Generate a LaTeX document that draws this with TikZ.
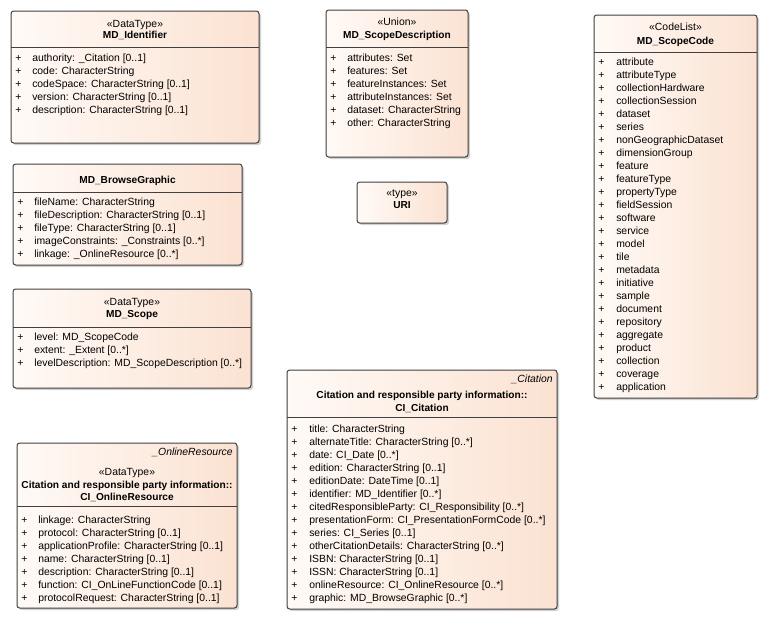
\documentclass[tikz,border=0pt]{standalone}
\usepackage{fontspec}
\setmainfont{Liberation Sans}
\usetikzlibrary{shadows}
\definecolor{boxleft}{HTML}{FFFAF6}
\definecolor{boxright}{HTML}{FBE2D2}
\tikzset{
  classbox/.style={draw=black!75, line width=0.75pt, rounded corners=2pt,
    left color=boxleft, right color=boxright,
    drop shadow={shadow xshift=1.5pt, shadow yshift=-1.5pt, fill=black!35, opacity=0.5}},
  sepline/.style={draw=black!75, line width=0.6pt},
  stereo/.style={font=\fontsize{7.8}{10}\selectfont, inner sep=0pt, text height=6pt, text depth=1.5pt},
  title/.style={stereo, font=\fontsize{7.6}{10}\selectfont\bfseries},
  attr/.style={stereo, anchor=west},
  tag/.style={stereo, anchor=east, font=\fontsize{7.8}{10}\selectfont\itshape},
}
\begin{document}
\begin{tikzpicture}[x=0.75pt, y=-0.75pt]
            \useasboundingbox (0,0) rectangle (767,639);
            % MD_Identifier
            \path[classbox] (11,11) rectangle (259,143);
            \draw[sepline] (11,47) -- (259,47);
            \node[stereo] (idstereo) at (135,24) {«DataType»};
            \node[title] (idname) at (135,35) {MD\_Identifier};
            \foreach \t [count=\i] in {authority: \_Citation [0..1], code: CharacterString,
                codeSpace: CharacterString [0..1], version: CharacterString [0..1],
                description: CharacterString [0..1]} {
              \node[attr] (idplus\i) at (15,45+13*\i) {+};
              \node[attr] (idattr\i) at (32,45+13*\i) {\t};
            }
            % MD_BrowseGraphic
            \path[classbox] (13,164) rectangle (242,265);
            \draw[sepline] (13,192) -- (242,192);
            \node[title] (bgname) at (127.5,180) {MD\_BrowseGraphic};
            \foreach \t [count=\i] in {fileName: CharacterString, fileDescription: CharacterString [0..1],
                fileType: CharacterString [0..1], imageConstraints: \_Constraints [0..*],
                linkage: \_OnlineResource [0..*]} {
              \node[attr] (bgplus\i) at (17,189+13*\i) {+};
              \node[attr] (bgattr\i) at (34,189+13*\i) {\t};
            }
            % MD_Scope
            \path[classbox] (13,289) rectangle (251,388);
            \draw[sepline] (13,327) -- (251,327);
            \node[stereo] (scstereo) at (132,302) {«DataType»};
            \node[title] (scname) at (132,314) {MD\_Scope};
            \foreach \t [count=\i] in {level: MD\_ScopeCode, extent: \_Extent [0..*],
                levelDescription: MD\_ScopeDescription [0..*]} {
              \node[attr] (scplus\i) at (17,324+13*\i) {+};
              \node[attr] (scattr\i) at (34,324+13*\i) {\t};
            }
            % CI_OnlineResource
            \path[classbox] (17,443) rectangle (237,608);
            \draw[sepline] (17,506) -- (237,506);
            \node[tag] (ortag) at (233,452) {\_OnlineResource};
            \node[stereo] (orstereo) at (127,472) {«DataType»};
            \node[title] (orpkg) at (127,485) {Citation and responsible party information::};
            \node[title] (orname) at (127,497) {CI\_OnlineResource};
            \foreach \t [count=\i] in {linkage: CharacterString, protocol: CharacterString [0..1],
                applicationProfile: CharacterString [0..1], name: CharacterString [0..1],
                description: CharacterString [0..1], function: CI\_OnLineFunctionCode [0..1],
                protocolRequest: CharacterString [0..1]} {
              \node[attr] (orplus\i) at (21,507+13*\i) {+};
              \node[attr] (orattr\i) at (38,507+13*\i) {\t};
            }
            % CI_Citation
            \path[classbox] (287,370) rectangle (557,609);
            \draw[sepline] (287,417) -- (557,417);
            \node[tag] (cttag) at (553,379) {\_Citation};
            \node[title] (ctpkg) at (422,395) {Citation and responsible party information::};
            \node[title] (ctname) at (422,408) {CI\_Citation};
            \foreach \t [count=\i] in {title: CharacterString, alternateTitle: CharacterString [0..*],
                date: CI\_Date [0..*], edition: CharacterString [0..1], editionDate: DateTime [0..1],
                identifier: MD\_Identifier [0..*], citedResponsibleParty: CI\_Responsibility [0..*],
                presentationForm: CI\_PresentationFormCode [0..*], series: CI\_Series [0..1],
                otherCitationDetails: CharacterString [0..*], ISBN: CharacterString [0..1],
                ISSN: CharacterString [0..1], onlineResource: CI\_OnlineResource [0..*],
                graphic: MD\_BrowseGraphic [0..*]} {
              \node[attr] (ctplus\i) at (291,417+12.93*\i) {+};
              \node[attr] (ctattr\i) at (309,417+12.93*\i) {\t};
            }
            % MD_ScopeDescription
            \path[classbox] (326,10) rectangle (468,157);
            \draw[sepline] (326,47) -- (468,47);
            \node[stereo] (sdstereo) at (397,22) {«Union»};
            \node[title] (sdname) at (397,35) {MD\_ScopeDescription};
            \foreach \t [count=\i] in {attributes: Set, features: Set, featureInstances: Set,
                attributeInstances: Set, dataset: CharacterString, other: CharacterString} {
              \node[attr] (sdplus\i) at (330,45+13*\i) {+};
              \node[attr] (sdattr\i) at (347,45+13*\i) {\t};
            }
            % URI
            \path[classbox] (357,182) rectangle (447,223);
            \node[stereo] (uristereo) at (402,193) {«type»};
            \node[title] (uriname) at (402,205) {URI};
            % MD_ScopeCode
            \path[classbox] (594,15) rectangle (757,398);
            \draw[sepline] (594,52) -- (757,52);
            \node[stereo] (cdstereo) at (675.5,28) {«CodeList»};
            \node[title] (cdname) at (675.5,41) {MD\_ScopeCode};
            \foreach \t [count=\i] in {attribute, attributeType, collectionHardware, collectionSession,
                dataset, series, nonGeographicDataset, dimensionGroup, feature, featureType,
                propertyType, fieldSession, software, service, model, tile, metadata, initiative,
                sample, document, repository, aggregate, product, collection, coverage, application} {
              \node[attr] (cdplus\i) at (598,49+13*\i) {+};
              \node[attr] (cdattr\i) at (616,49+13*\i) {\t};
            }
        \end{tikzpicture}
\end{document}
